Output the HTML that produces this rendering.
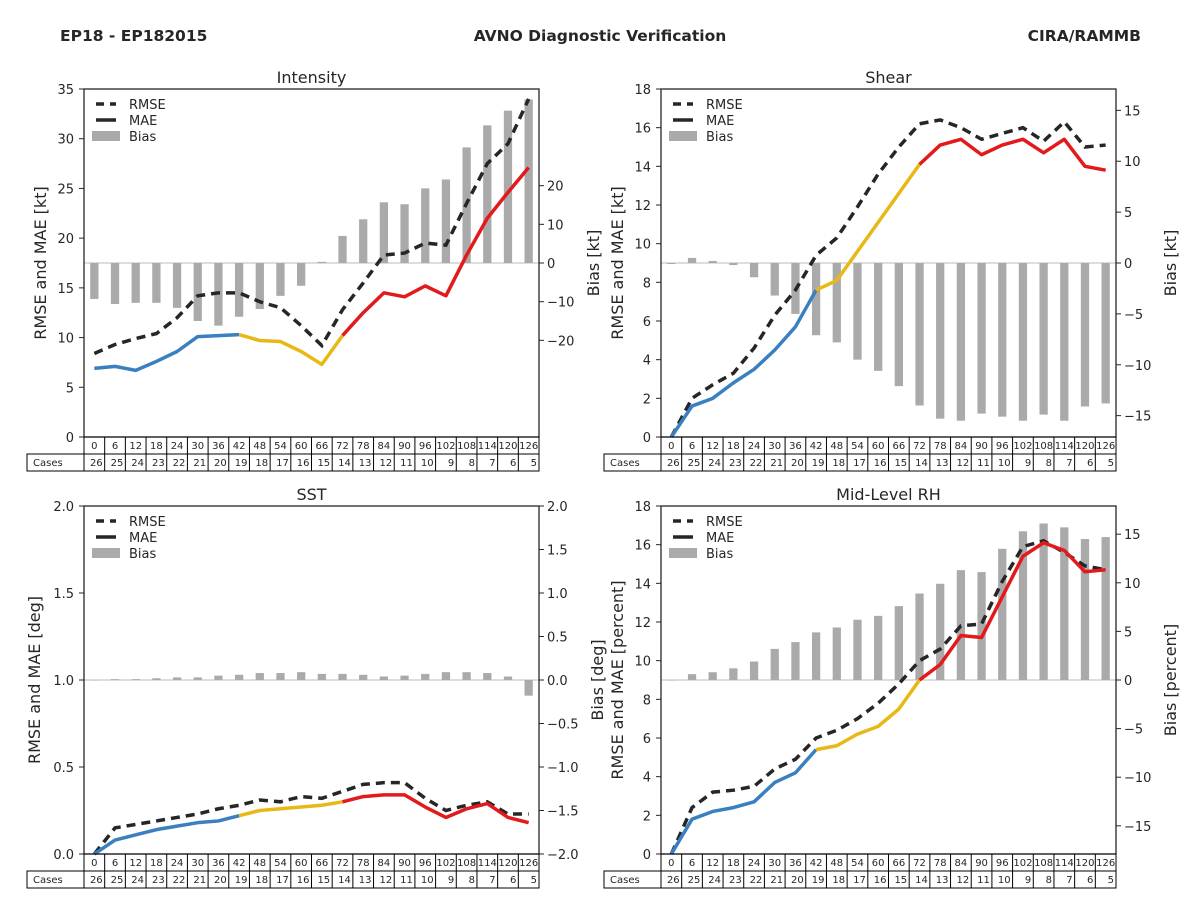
<!DOCTYPE html>
<html><head><meta charset="utf-8"><style>
body{margin:0;background:#fff;width:1200px;height:900px;overflow:hidden}
svg{font-family:"DejaVu Sans","Liberation Sans",sans-serif}
</style></head><body>
<svg id="c" width="1200" height="900" xmlns="http://www.w3.org/2000/svg">
<text x="60" y="41" font-size="15.5" font-weight="bold" fill="#262626">EP18 - EP182015</text>
<text x="600" y="41" font-size="15.5" font-weight="bold" fill="#262626" text-anchor="middle">AVNO Diagnostic Verification</text>
<text x="1141" y="41" font-size="15.5" font-weight="bold" fill="#262626" text-anchor="end">CIRA/RAMMB</text>
</svg>
<script>
const hours=[0,6,12,18,24,30,36,42,48,54,60,66,72,78,84,90,96,102,108,114,120,126];
const cases=[26,25,24,23,22,21,20,19,18,17,16,15,14,13,12,11,10,9,8,7,6,5];
const intRmse=[8.4,9.3,9.9,10.4,12,14.2,14.5,14.5,13.6,13,11.2,9.2,12.8,15.5,18.3,18.5,19.5,19.3,23.5,27.5,29.5,34];
const intMae=[6.9,7.1,6.7,7.6,8.6,10.1,10.2,10.3,9.7,9.6,8.6,7.3,10.2,12.5,14.5,14.1,15.2,14.2,18.3,22,24.6,27.1];
const intBias=[-9.3,-10.6,-10.3,-10.3,-11.6,-15,-16.2,-13.9,-11.9,-8.5,-5.9,0.3,7,11.3,15.7,15.2,19.3,21.6,29.9,35.6,39.4,42.3];
const shrRmse=[0,2,2.7,3.3,4.6,6.3,7.6,9.4,10.3,11.9,13.6,15,16.2,16.4,16,15.4,15.7,16,15.3,16.3,15,15.1];
const shrMae=[0,1.6,2,2.8,3.5,4.5,5.7,7.6,8.1,9.6,11.1,12.6,14.1,15.1,15.4,14.6,15.1,15.4,14.7,15.4,14,13.8];
const shrBias=[-0.1,0.5,0.2,-0.2,-1.4,-3.2,-5,-7.1,-7.8,-9.5,-10.6,-12.1,-14,-15.3,-15.5,-14.8,-15.1,-15.5,-14.9,-15.5,-14.1,-13.8];
const sstRmse=[0,0.15,0.17,0.19,0.21,0.23,0.26,0.28,0.31,0.30,0.33,0.32,0.36,0.40,0.41,0.41,0.32,0.25,0.28,0.30,0.23,0.23];
const sstMae=[0,0.08,0.11,0.14,0.16,0.18,0.19,0.22,0.25,0.26,0.27,0.28,0.30,0.33,0.34,0.34,0.27,0.21,0.26,0.29,0.21,0.18];
const sstBias=[0,0.01,0.01,0.02,0.03,0.03,0.05,0.06,0.08,0.08,0.09,0.07,0.07,0.06,0.04,0.05,0.07,0.09,0.09,0.08,0.04,-0.18];
const rhRmse=[0,2.4,3.2,3.3,3.5,4.4,4.9,6,6.4,7,7.8,8.8,10,10.6,11.8,11.9,14.1,15.9,16.2,15.6,14.9,14.7];
const rhMae=[0,1.8,2.2,2.4,2.7,3.7,4.2,5.4,5.6,6.2,6.6,7.5,9,9.8,11.3,11.2,13.3,15.4,16.1,15.7,14.6,14.7];
const rhBias=[0,0.6,0.8,1.2,1.9,3.2,3.9,4.9,5.4,6.2,6.6,7.6,8.9,9.9,11.3,11.1,13.5,15.3,16.1,15.7,14.5,14.7];
const leftTicksKt=[0,5,10,15,20,25,30,35];
const rightTicksInt=[-20,-10,0,10,20];
const leftTicks18=[0,2,4,6,8,10,12,14,16,18];
const rightTicks15=[-15,-10,-5,0,5,10,15];
const leftTicksSst=[0,0.5,1.0,1.5,2.0];
const rightTicksSst=[-2.0,-1.5,-1.0,-0.5,0.0,0.5,1.0,1.5,2.0];

const svg=document.getElementById('c');
const NS='http://www.w3.org/2000/svg';
function mk(tag,attrs,parent){const e=document.createElementNS(NS,tag);for(const k in attrs)e.setAttribute(k,attrs[k]);(parent||svg).appendChild(e);return e;}
function fmtMinus(v,d){const s=v.toFixed(d);return s.replace('-','\u2212');}

function panel(p){
  const g=mk('g',{});
  
  
  const n=hours.length, cw=(p.R-p.L)/n;
  const x=i=>p.L+cw*(i+0.5);
  const y=v=>p.B-(v-p.ymin)/(p.ymax-p.ymin)*(p.B-p.T);
  const yr=v=>p.B-(v-p.rmin)/(p.rmax-p.rmin)*(p.B-p.T);
  const z=mk('line',{x1:p.L,x2:p.R,y1:yr(0),y2:yr(0),stroke:'#bbb','stroke-width':1},g);
  
  
  p.bias.forEach((b,i)=>{
    const y0=yr(0),y1=yr(b);
    const r=mk('rect',{x:x(i)-cw*0.2,y:Math.min(y0,y1),width:cw*0.4,height:Math.max(0.5,Math.abs(y1-y0)),fill:'#aaaaaa'},g);
    
    
  });
  const rp=p.rmse.map((v,i)=>x(i)+','+y(v)).join(' ');
  const rl=mk('polyline',{points:rp,fill:'none',stroke:'#262626','stroke-width':3.5,'stroke-dasharray':'9,6'},g);
  
  
  const segs=[[0,7,'#3a7fc0'],[7,12,'#e8b817'],[12,21,'#e31a1c']];
  segs.forEach(s=>{
    const pts=[];for(let i=s[0];i<=s[1];i++)pts.push(x(i)+','+y(p.mae[i]));
    const m=mk('polyline',{points:pts.join(' '),fill:'none',stroke:s[2],'stroke-width':3.5,'stroke-linejoin':'round'},g);
    
    
  });
  const f=mk('rect',{x:p.L,y:p.T,width:p.R-p.L,height:p.B-p.T,fill:'none',stroke:'#262626','stroke-width':1.3},g);
  
  
  p.lt.forEach(v=>{
    mk('line',{x1:p.L-5,x2:p.L,y1:y(v),y2:y(v),stroke:'#262626'},g);
    const t=mk('text',{x:p.L-10,y:y(v)+5,'font-size':13,'text-anchor':'end',fill:'#262626'},g);
    t.textContent=fmtMinus(v,p.ld);
    
    
  });
  p.rt.forEach(v=>{
    mk('line',{x1:p.R,x2:p.R+5,y1:yr(v),y2:yr(v),stroke:'#262626'},g);
    const t=mk('text',{x:p.R+8,y:yr(v)+5,'font-size':13,fill:'#262626'},g);
    t.textContent=fmtMinus(v,p.rd);
    
    
  });
  const tt=mk('text',{x:(p.L+p.R)/2,y:p.T-6,'font-size':16,'text-anchor':'middle',fill:'#262626'},g);
  tt.textContent=p.title;
  
  
  const cy=(p.T+p.B)/2;
  const la=mk('text',{x:p.llx,y:cy,'font-size':16,'text-anchor':'middle',fill:'#262626',transform:'rotate(-90 '+p.llx+' '+cy+')'},g);
  la.textContent=p.ll;
  
  
  const ra=mk('text',{x:p.rlx,y:cy,'font-size':16,'text-anchor':'middle',fill:'#262626',transform:'rotate(-90 '+p.rlx+' '+cy+')'},g);
  ra.textContent=p.rl;
  
  
  const lg=mk('g',{},g);
  
  
  const lx=p.L+12,ly=p.T+15;
  mk('line',{x1:lx,x2:lx+20,y1:ly,y2:ly,stroke:'#262626','stroke-width':3.5,'stroke-dasharray':'8,6'},lg);
  mk('line',{x1:lx,x2:lx+20,y1:ly+16,y2:ly+16,stroke:'#262626','stroke-width':3.5},lg);
  mk('rect',{x:lx-4,y:ly+27,width:28,height:10,fill:'#aaaaaa'},lg);
  ['RMSE','MAE','Bias'].forEach((s,k)=>{
    const t=mk('text',{x:lx+33,y:ly+5+16*k,'font-size':13,fill:'#262626'},lg);
    t.textContent=s;
    
    
  });
  const tb=mk('g',{},g);
  
  
  const r1=p.B,r2=p.B+17,r3=p.B+34;
  mk('rect',{x:p.L,y:r1,width:p.R-p.L,height:17,fill:'none',stroke:'#000','stroke-width':1},tb);
  mk('rect',{x:p.L-57,y:r2,width:p.R-p.L+57,height:17,fill:'none',stroke:'#000','stroke-width':1},tb);
  mk('line',{x1:p.L,x2:p.L,y1:r2,y2:r3,stroke:'#000'},tb);
  const cl=mk('text',{x:p.L-51,y:r2+12,'font-size':10,fill:'#262626'},tb);
  cl.textContent='Cases';
  for(let i=0;i<n;i++){
    if(i>0)mk('line',{x1:p.L+cw*i,x2:p.L+cw*i,y1:r1,y2:r3,stroke:'#000'},tb);
    const h=mk('text',{x:x(i),y:r1+12,'font-size':10,'text-anchor':'middle',fill:'#262626'},tb);
    h.textContent=hours[i];
    
    
    const c=mk('text',{x:p.L+cw*(i+1)-2,y:r2+12,'font-size':10,'text-anchor':'end',fill:'#262626'},tb);
    c.textContent=cases[i];
    
    
  }
}
panel({name:'intensity',title:'Intensity',L:84,R:539,T:89,B:437,ymin:0,ymax:35,rmin:-45,rmax:45,lt:leftTicksKt,rt:rightTicksInt,ld:0,rd:0,rmse:intRmse,mae:intMae,bias:intBias,ll:'RMSE and MAE [kt]',llx:46,rl:'Bias [kt]',rlx:599});
panel({name:'shear',title:'Shear',L:661,R:1116,T:89,B:437,ymin:0,ymax:18,rmin:-17.1,rmax:17.1,lt:leftTicks18,rt:rightTicks15,ld:0,rd:0,rmse:shrRmse,mae:shrMae,bias:shrBias,ll:'RMSE and MAE [kt]',llx:623,rl:'Bias [kt]',rlx:1176});
panel({name:'sst',title:'SST',L:84,R:539,T:506,B:854,ymin:0,ymax:2,rmin:-2,rmax:2,lt:leftTicksSst,rt:rightTicksSst,ld:1,rd:1,rmse:sstRmse,mae:sstMae,bias:sstBias,ll:'RMSE and MAE [deg]',llx:40,rl:'Bias [deg]',rlx:603});
panel({name:'mid-level-rh',title:'Mid-Level RH',L:661,R:1116,T:506,B:854,ymin:0,ymax:18,rmin:-17.9,rmax:17.9,lt:leftTicks18,rt:rightTicks15,ld:0,rd:0,rmse:rhRmse,mae:rhMae,bias:rhBias,ll:'RMSE and MAE [percent]',llx:623,rl:'Bias [percent]',rlx:1176});
</script>
</body></html>
